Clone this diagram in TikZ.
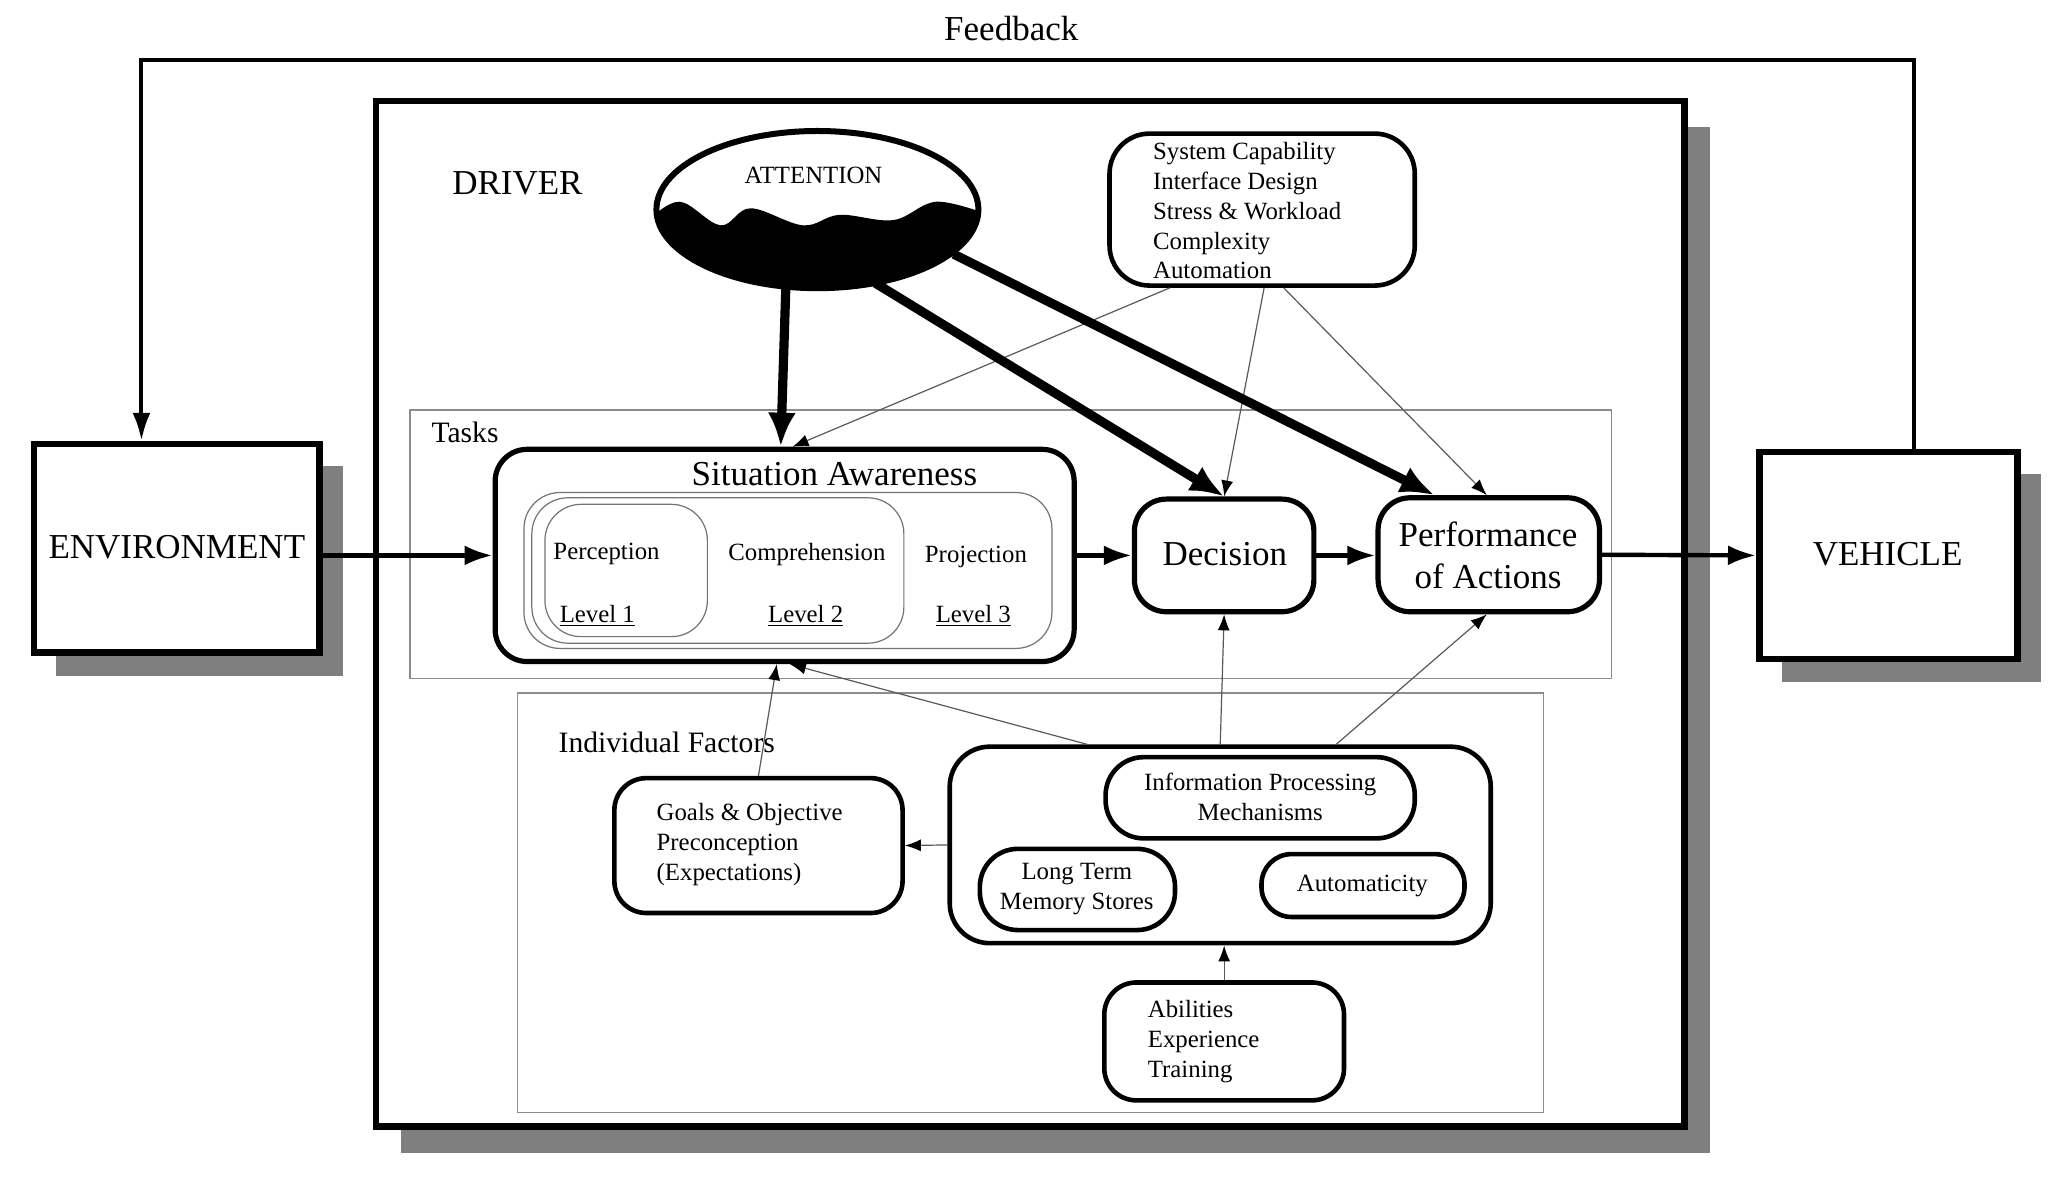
\documentclass[tikz,border=0pt]{standalone}
\usepackage{fontspec}
\setmainfont{Liberation Serif}
\usetikzlibrary{arrows.meta,fit,shapes.geometric,calc}
\definecolor{shadowgray}{HTML}{7F7F7F}
\begin{document}
\begin{tikzpicture}[x=0.655pt,y=-0.655pt,
  shadowbox/.style={fill=shadowgray, draw=none},
  bigbox/.style={draw, fill=white, line width=3.3pt, inner sep=0pt},
  rbox/.style={draw, fill=white, line width=2.6pt, rounded corners=16pt, inner sep=0pt},
  sbox/.style={draw, line width=2.3pt, rounded corners=16pt, inner sep=0pt},
  thinbox/.style={draw=black!45, line width=0.6pt, inner sep=0pt},
  lvlbox/.style={draw=black!55, line width=0.6pt, rounded corners=18pt, inner sep=0pt},
  bigtxt/.style={font=\fontsize{17.5}{21}\selectfont, inner sep=0pt, align=center},
  smtxt/.style={font=\fontsize{12.4}{15}\selectfont, inner sep=0pt},
  midtxt/.style={font=\fontsize{14.8}{18}\selectfont, inner sep=0pt},
  thinarrow/.style={draw=black!65, line width=0.6pt, -{Latex[length=8pt,width=6pt,fill=black,color=black]}},
  heavyarrow/.style={line width=4.6pt, -{Latex[length=17pt,width=14pt]}},
  midarrow/.style={line width=2.2pt, -{Latex[length=14pt,width=10pt]}},
]
\useasboundingbox (0,0) rectangle (1568,902);

% shadows
\fill[shadowbox] (306,97) rectangle (1305,880);
\fill[shadowbox] (43,356) rectangle (262,516);
\fill[shadowbox] (1360,362) rectangle (1558,521);

% main boxes
\node[bigbox, fit={(287,77) (1286,860)}] (driver) {};
\node[bigbox, fit={(26,339) (244,498)}] (env) {};
\node[bigbox, fit={(1343,345) (1540,503)}] (veh) {};
\node[bigtxt] (envt) at (135,418) {ENVIRONMENT};
\node[bigtxt] (veht) at (1441,423) {VEHICLE};
\node[bigtxt] (drvt) at (395,140) {DRIVER};
\node[bigtxt] (fbt) at (772,22) {Feedback};

% group rectangles
\node[thinbox, fit={(313,313) (1230,518)}] (tasks) {};
\node[midtxt] (taskst) at (355,330) {Tasks};
\node[thinbox, fit={(395,529) (1178,849)}] (indiv) {};
\node[midtxt] (indivt) at (509,567) {Individual Factors};

% attention
\begin{scope}
\clip (624,160) ellipse [x radius=123, y radius=60];
\fill plot[smooth, tension=0.6] coordinates {(495,168) (519,154) (550,172) (573,159) (613,172) (641,164) (682,168) (715,154) (755,164)} -- (760,240) -- (490,240) -- cycle;
\end{scope}
\node[ellipse, draw, line width=3pt, minimum width=161pt, minimum height=78.6pt, inner sep=0pt] (att) at (624,160) {};
\node[smtxt] (attt) at (621,134) {ATTENTION};

% system factors
\node[sbox, fill=white, rounded corners=20pt, fit={(847,102) (1080,218)}] (sys) {};
\node[smtxt, anchor=west, align=left, font=\fontsize{12.4}{14.9}\selectfont] (syst) at (880,161) {System Capability\\Interface Design\\Stress \& Workload\\Complexity\\Automation};

% situation awareness
\node[rbox, fit={(378,343) (820,505)}] (sa) {};
\node[bigtxt] (sat) at (637,362) {Situation Awareness};
\node[lvlbox, fit={(400,376) (803,495)}] (lv3) {};
\node[lvlbox, fit={(406,380) (690,491)}] (lv2) {};
\node[lvlbox, fit={(416,385) (540,486)}] (lv1) {};
\node[smtxt] (perc) at (463,423) {Perception};
\node[smtxt] (l1) at (456,470) {\underline{Level 1}};
\node[smtxt] (comp) at (616,423) {Comprehension};
\node[smtxt] (l2) at (615,470) {\underline{Level 2}};
\node[smtxt] (proj) at (745,425) {Projection};
\node[smtxt] (l3) at (743,470) {\underline{Level 3}};

% decision and performance
\node[rbox, fit={(866,381) (1003,467)}] (dec) {};
\node[bigtxt] (dect) at (935,423) {Decision};
\node[rbox, fit={(1052,380) (1221,467)}] (perf) {};
\node[bigtxt] (perft) at (1136,424) {Performance\\of Actions};

% individual factors
\node[sbox, fit={(469,594) (689,697)}] (goals) {};
\node[smtxt, anchor=west, align=left, font=\fontsize{12.4}{15}\selectfont] (goalst) at (501,645) {Goals \& Objective\\Preconception\\(Expectations)};
\node[sbox, rounded corners=20pt, fit={(725,570) (1138,720)}] (ipc) {};
\node[sbox, rounded corners=19pt, fit={(844,578) (1080,640)}] (ipm) {};
\node[smtxt, align=center, font=\fontsize{12.4}{15}\selectfont] (ipmt) at (962,608.5) {Information Processing\\Mechanisms};
\node[sbox, rounded corners=19pt, fit={(748,648) (897,710)}] (ltm) {};
\node[smtxt, align=center, font=\fontsize{12.4}{15}\selectfont] (ltmt) at (822,678.5) {Long Term\\Memory Stores};
\node[sbox, rounded corners=15pt, fit={(963,652) (1118,700)}] (auto) {};
\node[smtxt] (autot) at (1040,676) {Automaticity};
\node[sbox, fit={(843,750) (1026,840)}] (abl) {};
\node[smtxt, anchor=west, align=left, font=\fontsize{12.4}{15}\selectfont] (ablt) at (876,795) {Abilities\\Experience\\Training};

% feedback loop
\draw[line width=2pt, -{Latex[length=14pt,width=9pt]}] (veh.north -| 1461,0) -- (1461,46) -- (108,46) -- (env.north -| 108,0);

% main flow
\draw[midarrow] (env.east |- sa.west) -- (sa.west);
\draw[midarrow] (sa.east) -- (dec.west);
\draw[midarrow] (dec.east) -- (perf.west |- dec.east);
\draw[midarrow] (perf.east) -- (veh.west);

% thin influences
\draw[thinarrow] (sys.south -| 893,0) -- (605,0 |- sa.north);
\draw[thinarrow] (sys.south -| 965,0) -- (dec.north);
\draw[thinarrow] (sys.south -| 980,0) -- (1135,0 |- perf.north);
\draw[thinarrow] (ipc.north -| 830,0) -- (603,0 |- sa.south);
\draw[thinarrow] (goals.north) -- (593,0 |- sa.south);
\draw[thinarrow] (ipc.north) -- (dec.south);
\draw[thinarrow] (ipc.north -| 1020,0) -- (1135,0 |- perf.south);
\draw[thinarrow] (ipc.west) -- (goals.east);
\draw[thinarrow] (abl.north) -- (abl.north |- ipc.south);

% attention arrows
\draw[heavyarrow] ($(att.center)+(-24,56)$) -- (596,0 |- sa.north);
\draw[heavyarrow] ($(att.center)+(44,56)$) -- (dec.north);
\draw[heavyarrow] ($(att.center)+(104,34)$) -- (1095,0 |- perf.north);
\end{tikzpicture}
\end{document}
